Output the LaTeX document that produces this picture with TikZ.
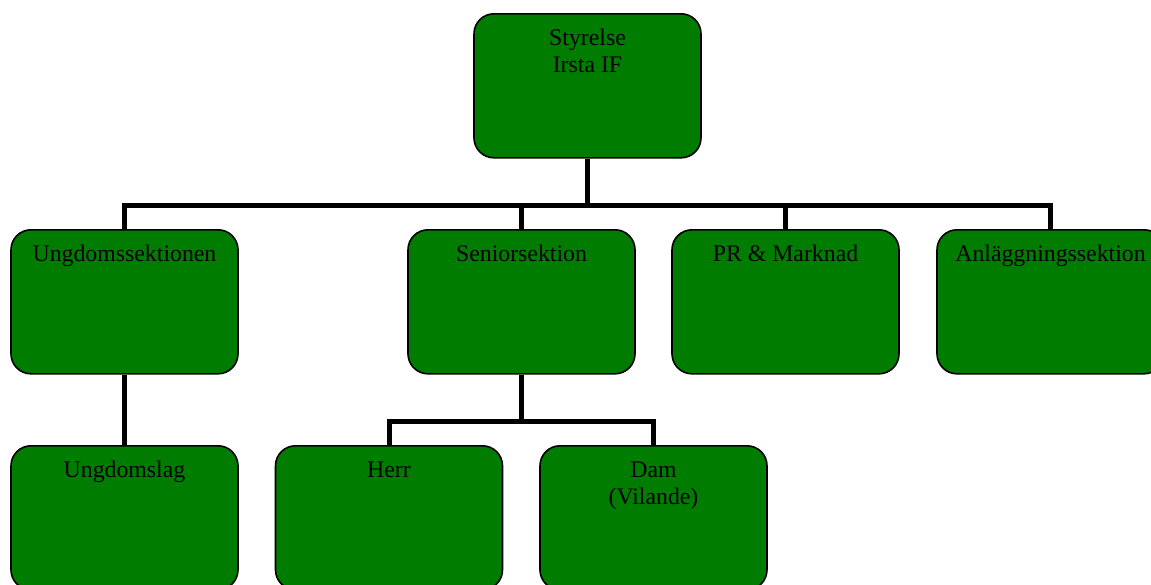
\documentclass[tikz,border=0pt]{standalone}
\usepackage{fontspec}
\setmainfont{Liberation Serif}
\definecolor{boxgreen}{RGB}{0,124,0}
\newcommand{\toplines}[1]{\begin{tabular}[t]{@{}c@{}}#1\end{tabular}}
\begin{document}
\begin{tikzpicture}[x=1pt,y=-1pt,
  orgbox/.style={draw=black, line width=1.6pt, fill=boxgreen, rounded corners=20pt,
    anchor=north, minimum width=227pt, inner xsep=0pt, inner ysep=0pt,
    text height=31.5pt, text depth=112.5pt,
    font=\fontsize{23.8}{27}\selectfont},
  link/.style={line width=5pt, draw=black}]
\useasboundingbox (0,0) rectangle (1151,584);
\node[orgbox] (top) at (587.5,13) {\toplines{Styrelse\\Irsta IF}};
\node[orgbox] (ungs) at (124.5,229) {Ungdomssektionen};
\node[orgbox] (sen) at (521.5,229) {Seniorsektion};
\node[orgbox] (pr) at (785.5,229) {PR \& Marknad};
\node[orgbox] (anl) at (1050.5,229) {Anläggningssektion};
\node[orgbox] (ungl) at (124.5,445) {Ungdomslag};
\node[orgbox] (herr) at (389,445) {Herr};
\node[orgbox] (dam) at (653.5,445) {\toplines{Dam\\(Vilande)}};
\coordinate (bus) at (587.5,205);
\coordinate (bus2) at (521.5,421);
\draw[link] (top.south) -- (top.south |- bus);
\draw[link] (ungs.north) |- (anl.north |- bus) -- (anl.north);
\draw[link] (sen.north) -- (sen.north |- bus);
\draw[link] (pr.north) -- (pr.north |- bus);
\draw[link] (ungs.south) -- (ungl.north);
\draw[link] (sen.south) -- (bus2);
\draw[link] (herr.north) |- (dam.north |- bus2) -- (dam.north);
\end{tikzpicture}
\end{document}
